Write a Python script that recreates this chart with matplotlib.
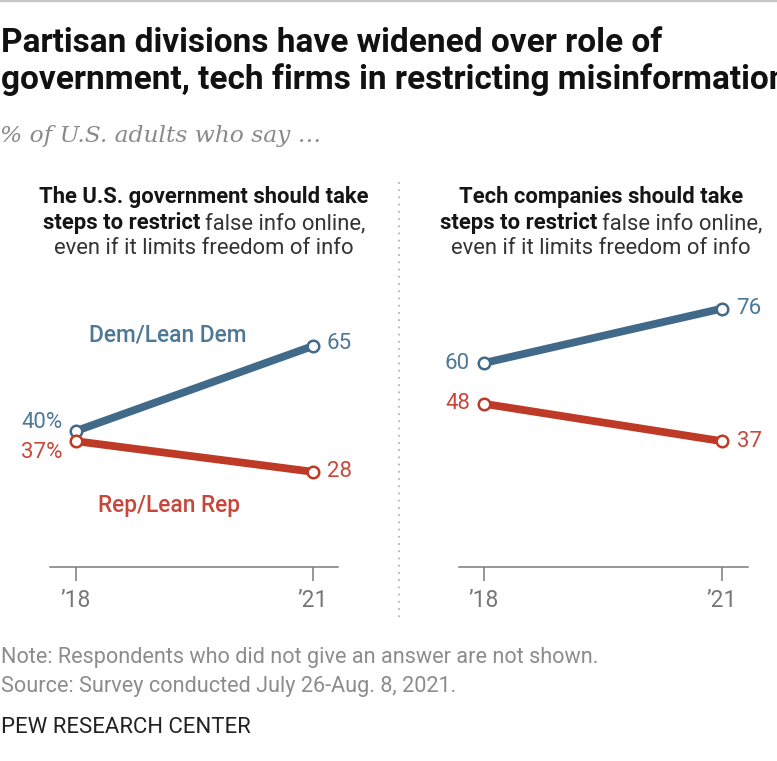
import matplotlib
matplotlib.use("Agg")
import matplotlib.pyplot as plt
from matplotlib.lines import Line2D

# ---------------- data ----------------
years = ["\u201918", "\u201921"]
gov_dem = [40, 65]
gov_rep = [37, 28]
tech_dem = [60, 76]
tech_rep = [48, 37]

title_lines = ["Partisan divisions have widened over role of",
               "government, tech firms in restricting misinformation"]
subtitle = "% of U.S. adults who say \u2026"
left_head_bold1 = "The U.S. government should take"
right_head_bold1 = "Tech companies should take"
head_bold2 = "steps to restrict"
head_reg2 = "false info online,"
head_reg3 = "even if it limits freedom of info"
series_names = ["Dem/Lean Dem", "Rep/Lean Rep"]
note_lines = ["Note: Respondents who did not give an answer are not shown.",
              "Source: Survey conducted July 26-Aug. 8, 2021."]
credit = "PEW RESEARCH CENTER"

# ---------------- style ----------------
W, H = 777, 761
DEM = "#41698a"
DEM_T = "#4d7897"
REP = "#bf3a26"
REP_T = "#c8473a"
SANS = ["Roboto", "DejaVu Sans"]

fig = plt.figure(figsize=(W / 100, H / 100), dpi=100)
fig.patch.set_facecolor("white")


def fx(x):
    return x / W


def fy(y):
    return 1 - y / H


# top border
fig.add_artist(Line2D([0, 1], [fy(0.8), fy(0.8)], transform=fig.transFigure,
                      color="#c4c4c4", lw=1.6))

# title
for i, line in enumerate(title_lines):
    fig.text(fx(1), fy(52 + 37 * i), line, fontsize=24, fontweight="bold",
             family=SANS, color="#111111", va="baseline", ha="left")

fig.text(fx(0), fy(142), subtitle, fontsize=16.8, style="italic",
         family=["DejaVu Serif"], color="#8a8a8a", va="baseline", ha="left")

renderer = fig.canvas.get_renderer()


def centered_mixed(cx, y, parts, size):
    objs = []
    widths = []
    gap = 5
    for s, w, c in parts:
        t = fig.text(0, fy(y), s, fontsize=size, fontweight=w, color=c,
                     family=SANS, va="baseline", ha="left")
        objs.append(t)
        widths.append(t.get_window_extent(renderer).width)
    total = sum(widths) + gap * (len(parts) - 1)
    x = cx - total / 2
    for t, w in zip(objs, widths):
        t.set_x(fx(x))
        x += w + gap


HS = 15.8
for cx, b1 in [(204, left_head_bold1), (601, right_head_bold1)]:
    centered_mixed(cx, 203, [(b1, "bold", "#151515")], HS)
    centered_mixed(cx, 229, [(head_bold2, "bold", "#151515"),
                             (head_reg2, "normal", "#333333")], HS)
    centered_mixed(cx, 254, [(head_reg3, "normal", "#333333")], HS)

# separator
fig.add_artist(Line2D([fx(399), fx(399)], [fy(182), fy(620)], transform=fig.transFigure,
                      color="#b5b5b5", lw=1.3, ls=(0, (1, 3))))


def make_axes(x0, x1, xl, xr):
    ax = fig.add_axes([fx(x0), fy(567), fx(x1) - fx(x0), (567 - 227) / H])
    ax.set_xlim(xl, xr)
    ax.set_ylim(0, 100)
    for s in ["top", "right", "left"]:
        ax.spines[s].set_visible(False)
    ax.spines["bottom"].set_color("#7a7a7a")
    ax.spines["bottom"].set_linewidth(1.1)
    ax.set_yticks([])
    ax.set_xticks([0, 1])
    ax.set_xticklabels(years, family=SANS, fontsize=16.5, color="#777777")
    ax.tick_params(axis="x", length=10, width=1.1, color="#7a7a7a", pad=6)
    ax.patch.set_alpha(0)
    return ax


def draw_series(ax, vals, lc):
    x = [0, 1]
    ax.plot(x, vals, color=lc, lw=5.6, solid_capstyle="butt", zorder=3, clip_on=False)
    ax.plot(x, vals, ls="none", marker="o", ms=8.3, mfc="white", mec=lc, mew=1.8,
            zorder=4, clip_on=False)


axL = make_axes(50, 338, -26 / 237, 1 + 25 / 237)
axR = make_axes(459, 748, -25 / 238, 1 + 26 / 238)

VS = 16
# left panel
draw_series(axL, gov_dem, DEM)
draw_series(axL, gov_rep, REP)
axL.annotate(f"{gov_dem[0]}%", (0, gov_dem[0]), xytext=(-9.5, 6), textcoords="offset points",
             ha="right", va="center", fontsize=VS, color=DEM_T, family=SANS)
axL.annotate(f"{gov_rep[0]}%", (0, gov_rep[0]), xytext=(-9.5, -8), textcoords="offset points",
             ha="right", va="center", fontsize=VS, color=REP_T, family=SANS)
axL.annotate(f"{gov_dem[1]}", (1, gov_dem[1]), xytext=(10, 2), textcoords="offset points",
             ha="left", va="center", fontsize=VS, color=DEM_T, family=SANS)
axL.annotate(f"{gov_rep[1]}", (1, gov_rep[1]), xytext=(10, 0), textcoords="offset points",
             ha="left", va="center", fontsize=VS, color=REP_T, family=SANS)
axL.text(0.388, 68.2, series_names[0], ha="center", va="center", fontsize=16.4,
         fontweight="medium", color=DEM_T, family=SANS)
axL.text(0.392, 18.2, series_names[1], ha="center", va="center", fontsize=16.4,
         fontweight="medium", color=REP_T, family=SANS)

# right panel
draw_series(axR, tech_dem, DEM)
draw_series(axR, tech_rep, REP)
for vals, tc in [(tech_dem, DEM_T), (tech_rep, REP_T)]:
    axR.annotate(f"{vals[0]}", (0, vals[0]), xytext=(-10, 0), textcoords="offset points",
                 ha="right", va="center", fontsize=VS, color=tc, family=SANS)
    axR.annotate(f"{vals[1]}", (1, vals[1]), xytext=(10.5, 0), textcoords="offset points",
                 ha="left", va="center", fontsize=VS, color=tc, family=SANS)

# notes
for i, line in enumerate(note_lines):
    fig.text(fx(1), fy(663 + 29 * i), line, fontsize=15.6, family=SANS,
             color="#8c8c8c", va="baseline", ha="left")
fig.text(fx(1), fy(733), credit, fontsize=15.9, family=SANS, color="#222222",
         va="baseline", ha="left")

fig.savefig("out.png", dpi=100, facecolor="white")
